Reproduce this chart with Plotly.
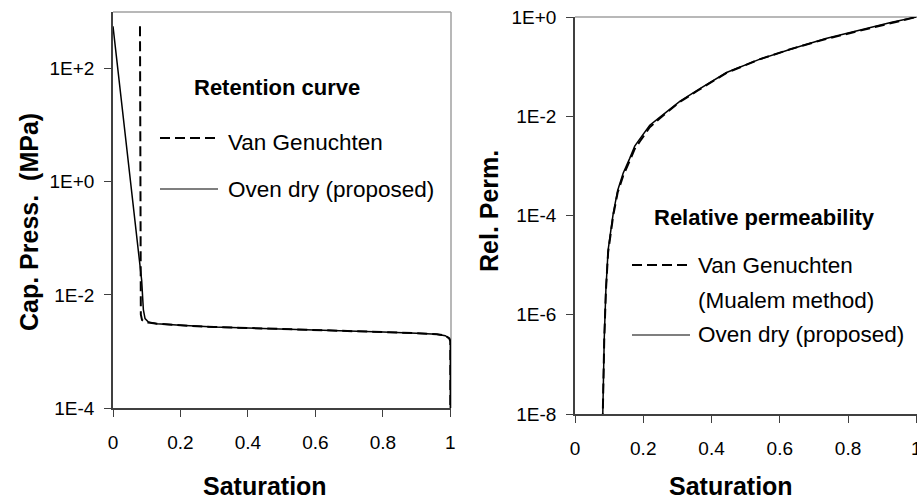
import plotly.graph_objects as go

W, H = 917, 503

# ---------------- data ----------------
# Retention curve (capillary pressure, MPa) vs saturation
sat_vg = [0.080, 0.0801, 0.0803, 0.0806, 0.081, 0.0825, 0.086, 0.095, 0.11, 0.13, 0.2, 0.3, 0.4,
          0.5, 0.6, 0.7, 0.8, 0.9, 0.96, 0.985, 0.997, 1.0, 1.0]
pc_vg = [560, 20, 1.0, 0.08, 0.012, 0.0045, 0.0036, 0.0033, 0.0032, 0.0031, 0.0029, 0.0027, 0.0026,
         0.0025, 0.00245, 0.0023, 0.0022, 0.0021, 0.00202, 0.0019, 0.0017, 0.0015, 1e-6]

sat_od = [0.0, 0.02, 0.04, 0.06, 0.075, 0.085, 0.09, 0.095, 0.105, 0.13, 0.2, 0.3, 0.4,
          0.5, 0.6, 0.7, 0.8, 0.9, 0.96, 0.985, 0.997, 1.0, 1.0]
pc_od = [560, 50, 4.5, 0.4, 0.06, 0.018, 0.0055, 0.0038, 0.0033, 0.0031, 0.0029, 0.0027, 0.0026,
         0.0025, 0.00245, 0.0023, 0.0022, 0.0021, 0.00202, 0.0019, 0.0017, 0.0015, 1e-6]

# Relative permeability vs saturation
sat_kr = [0.080, 0.081, 0.0856, 0.0905, 0.097, 0.105, 0.112, 0.125, 0.141, 0.16, 0.175, 0.19,
          0.219, 0.248, 0.28, 0.307, 0.36, 0.444, 0.54, 0.636, 0.735, 0.832, 0.928, 1.0]
kr_vg = [3.2e-9, 1e-8, 3.0e-7, 3.0e-6, 1.8e-5, 4.5e-5, 1.0e-4, 2.9e-4, 6.3e-4, 1.25e-3, 2.2e-3, 3.1e-3,
         6.0e-3, 9.0e-3, 1.35e-2, 1.95e-2, 3.3e-2, 7.5e-2, 0.14, 0.23, 0.36, 0.53, 0.77, 1.0]
kr_od = [3.2e-9, 1e-8, 3.2e-7, 3.2e-6, 2.0e-5, 5.0e-5, 1.1e-4, 3.2e-4, 7.1e-4, 1.4e-3, 2.5e-3, 3.5e-3,
         6.6e-3, 9.5e-3, 1.4e-2, 2.0e-2, 3.4e-2, 7.6e-2, 0.14, 0.23, 0.37, 0.54, 0.78, 1.0]

x_ticks = [0, 0.2, 0.4, 0.6, 0.8, 1.0]
x_ticktext = ["0", "0.2", "0.4", "0.6", "0.8", "1"]
pc_ticks = [1e-4, 1e-2, 1, 100]
pc_ticktext = ["1E-4", "1E-2", "1E+0", "1E+2"]
kr_ticks = [1e-8, 1e-6, 1e-4, 1e-2, 1]
kr_ticktext = ["1E-8", "1E-6", "1E-4", "1E-2", "1E+0"]

FONT = "Liberation Sans, Arial, sans-serif"
DASH = "10px,5px"

def px(x):
    return x / W

def py(y):
    return 1 - y / H

fig = go.Figure()
fig.add_trace(go.Scatter(x=sat_vg, y=pc_vg, mode="lines", xaxis="x", yaxis="y",
                         line=dict(color="black", width=2, dash=DASH), name="Van Genuchten"))
fig.add_trace(go.Scatter(x=sat_od, y=pc_od, mode="lines", xaxis="x", yaxis="y",
                         line=dict(color="black", width=1.5), name="Oven dry (proposed)"))
fig.add_trace(go.Scatter(x=sat_kr, y=kr_vg, mode="lines", xaxis="x2", yaxis="y2",
                         line=dict(color="black", width=2, dash=DASH), name="Van Genuchten (Mualem method)"))
fig.add_trace(go.Scatter(x=sat_kr, y=kr_od, mode="lines", xaxis="x2", yaxis="y2",
                         line=dict(color="black", width=1.5), name="Oven dry (proposed)"))

axis_common = dict(showline=True, linecolor="#404040", linewidth=1.5, ticks="outside",
                   ticklen=7, tickcolor="#404040", tickwidth=1.2, showgrid=False, zeroline=False,
                   automargin=False, ticklabeloverflow="allow",
                   tickfont=dict(family=FONT, size=19, color="black"))

fig.update_layout(
    width=W, height=H, margin=dict(l=0, r=0, t=0, b=0, pad=0, autoexpand=False),
    paper_bgcolor="white", plot_bgcolor="white", showlegend=False,
    xaxis=dict(domain=[px(113), px(451)], range=[0, 1.002], tickvals=x_ticks, ticktext=x_ticktext,
               anchor="y", ticklabelstandoff=9, **axis_common),
    yaxis=dict(domain=[py(408), py(12)], type="log", range=[-4, 3], tickvals=pc_ticks,
               ticktext=pc_ticktext, anchor="x", ticklabelstandoff=6, **axis_common),
    xaxis2=dict(domain=[px(575), 1.0], range=[0, 1.002], tickvals=x_ticks, ticktext=x_ticktext,
                anchor="y2", ticklabelstandoff=9, **axis_common),
    yaxis2=dict(domain=[py(414), py(17)], type="log", range=[-8, 0], tickvals=kr_ticks,
                ticktext=kr_ticktext, anchor="x2", ticklabelstandoff=6, **axis_common),
)

# plot-area borders (top / right) in light gray
border = dict(color="#a0a0a0", width=1.5)
fig.add_shape(type="line", xref="x domain", yref="y domain", x0=0, x1=1, y0=1, y1=1, line=border, layer="below")
fig.add_shape(type="line", xref="x domain", yref="y domain", x0=1, x1=1, y0=0, y1=1, line=border, layer="below")
fig.add_shape(type="line", xref="x2 domain", yref="y2 domain", x0=0, x1=1, y0=1, y1=1, line=border, layer="below")

# in-plot legend sample lines
fig.add_shape(type="line", xref="paper", yref="paper", x0=px(160), x1=px(218), y0=py(138), y1=py(138),
              line=dict(color="black", width=2, dash=DASH))
fig.add_shape(type="line", xref="paper", yref="paper", x0=px(160), x1=px(218), y0=py(189), y1=py(189),
              line=dict(color="black", width=1.2))
fig.add_shape(type="line", xref="paper", yref="paper", x0=px(632), x1=px(690), y0=py(265), y1=py(265),
              line=dict(color="black", width=2, dash=DASH))
fig.add_shape(type="line", xref="paper", yref="paper", x0=px(632), x1=px(690), y0=py(335), y1=py(335),
              line=dict(color="black", width=1.2))

def ann(text, x, y, size, bold=False, xanchor="center", angle=0):
    fig.add_annotation(text=f"<b>{text}</b>" if bold else text, x=px(x), y=py(y),
                       xref="paper", yref="paper", xanchor=xanchor, yanchor="middle",
                       showarrow=False, textangle=angle,
                       font=dict(family=FONT, size=size, color="black"))

# axis titles
ann("Saturation", 265, 486, 25, bold=True)
ann("Saturation", 731, 486, 25, bold=True)
ann("Cap. Press.  (MPa)", 29, 222, 25, bold=True, angle=-90)
ann("Rel. Perm.", 489, 211, 25, bold=True, angle=-90)

# in-plot legends
ann("Retention curve", 277, 87, 22, bold=True)
ann("Van Genuchten", 226, 142, 22.5, xanchor="left")
ann("Oven dry (proposed)", 226, 189, 22.5, xanchor="left")
ann("Relative permeability", 764, 217, 22, bold=True)
ann("Van Genuchten", 696, 265, 22.5, xanchor="left")
ann("(Mualem method)", 696, 300, 22.5, xanchor="left")
ann("Oven dry (proposed)", 696, 334, 22.5, xanchor="left")

fig.write_html("out.html", config={"responsive": False})
